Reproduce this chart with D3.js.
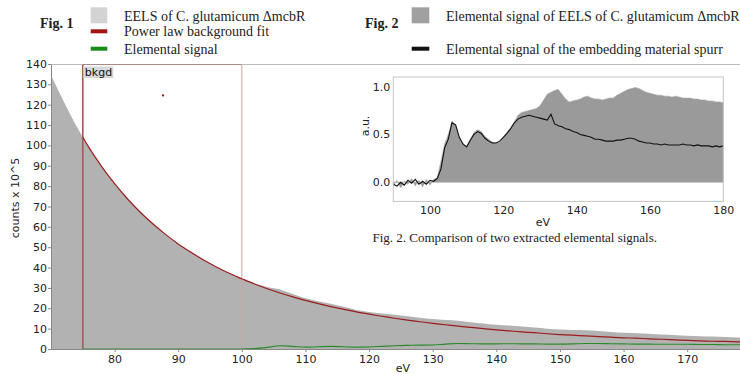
<!DOCTYPE html>
<html>
<head>
<meta charset="utf-8">
<script src="https://cdn.jsdelivr.net/npm/d3@7"></script>
<style>
  body { margin: 0; background: #fff; }
  svg { display: block; }
  .tick text { font-family: "DejaVu Sans", sans-serif; font-size: 11px; fill: #222; }
  .serif { font-family: "Liberation Serif", "Times New Roman", serif; fill: #222; }
</style>
</head>
<body>
<div id="chart"></div>
<script>
// ---- Fig. 1 data (counts x 10^5 vs eV) ----
const specEv = [70, 72, 74, 76, 78, 80, 82, 84, 86, 88, 90, 92, 94, 96, 98, 100,
  102, 104, 106, 108, 110, 112, 114, 116, 118, 120, 122, 124, 126, 128, 130,
  132, 134, 136, 138, 140, 142, 144, 146, 148, 150, 152, 154, 156, 158, 160,
  162, 164, 166, 168, 170, 172, 174, 176, 178, 180];
const specCounts = [134.5, 121.6, 109.5, 98.8, 89.5, 81.2, 73.8, 67.3, 61.5, 56.3, 51.6, 47.5, 43.7, 40.3, 37.2, 34.6,
  32.2, 30.5, 29.2, 27.0, 24.9, 23.5, 22.2, 20.7, 19.2, 18.2, 17.4, 16.8, 16.1, 15.3, 14.7,
  14.3, 13.9, 13.2, 12.5, 11.9, 11.5, 11.0, 10.6, 10.0, 9.6, 9.3, 9.2, 8.8, 8.4, 8.0,
  7.7, 7.5, 7.1, 6.9, 6.5, 6.3, 6.1, 5.9, 5.6, 5.5];

const fitEv = [75, 76, 78, 80, 82, 84, 86, 88, 90, 92, 94, 96, 98, 100,
  102, 104, 106, 108, 110, 112, 114, 116, 118, 120, 122, 124, 126, 128, 130,
  132, 134, 136, 138, 140, 142, 144, 146, 148, 150, 152, 154, 156, 158, 160,
  162, 164, 166, 168, 170, 172, 174, 176, 178, 180];
const fitCounts = [104, 98.8, 89.5, 81.2, 73.8, 67.3, 61.5, 56.3, 51.6, 47.5, 43.7, 40.3, 37.2, 34.5,
  31.9, 29.6, 27.5, 25.6, 23.9, 22.3, 20.8, 19.5, 18.2, 17.1, 16.1, 15.1, 14.2, 13.4, 12.6,
  11.9, 11.2, 10.6, 10.0, 9.4, 8.9, 8.4, 8.0, 7.5, 7.1, 6.8, 6.4, 6.1, 5.8, 5.5,
  5.3, 5.0, 4.8, 4.5, 4.2, 4.0, 3.8, 3.7, 3.5, 3.4];

const sigEv = fitEv;
const sigCounts = [0, 0, 0, 0, 0, 0, 0, 0, 0, 0, 0, 0, 0, 0,
  0.2, 0.8, 1.6, 1.3, 0.9, 1.1, 1.3, 1.1, 0.9, 1.0, 1.3, 1.6, 1.8, 1.9, 2.0,
  2.4, 2.7, 2.6, 2.5, 2.5, 2.6, 2.5, 2.5, 2.4, 2.4, 2.5, 2.7, 2.7, 2.6, 2.5,
  2.4, 2.4, 2.3, 2.3, 2.3, 2.2, 2.2, 2.1, 2.1, 2.0];

const bkgdWindow = [75, 100];
const marker = [{ev: 87.6, counts: 124.6}];
const yTicks1 = d3.range(0, 141, 10);
const xTicks1 = [80, 90, 100, 110, 120, 130, 140, 150, 160, 170];

// ---- Fig. 2 data (a.u. vs eV) ----
const ev2 = d3.range(90, 181, 1);
const cgSignal = [-0.03, 0.02, -0.06, 0.01, -0.02, 0.04, -0.04, 0.02, -0.05, 0.03,
  -0.03, 0.03, 0.05, 0.22, 0.40, 0.50, 0.64, 0.60, 0.47, 0.40,
  0.37, 0.45, 0.52, 0.55, 0.53, 0.48, 0.45, 0.42, 0.41, 0.42,
  0.47, 0.52, 0.57, 0.63, 0.70, 0.73, 0.74, 0.75, 0.76, 0.77,
  0.80, 0.86, 0.92, 0.94, 0.96, 0.97, 0.92, 0.87, 0.84, 0.85,
  0.86, 0.87, 0.89, 0.90, 0.88, 0.87, 0.87, 0.86, 0.87, 0.88,
  0.88, 0.91, 0.93, 0.95, 0.97, 0.98, 0.99, 0.98, 0.96, 0.94,
  0.93, 0.92, 0.91, 0.91, 0.90, 0.90, 0.89, 0.90, 0.89, 0.88,
  0.88, 0.88, 0.87, 0.87, 0.86, 0.86, 0.85, 0.85, 0.84, 0.84, 0.83];
const spurrSignal = [-0.02, -0.04, 0.00, -0.03, 0.02, -0.01, 0.03, -0.02, 0.01, -0.02,
  0.02, 0.01, 0.04, 0.14, 0.36, 0.45, 0.62, 0.60, 0.47, 0.40,
  0.37, 0.44, 0.50, 0.53, 0.51, 0.46, 0.43, 0.41, 0.41, 0.43,
  0.47, 0.51, 0.56, 0.62, 0.66, 0.68, 0.69, 0.70, 0.69, 0.68,
  0.67, 0.66, 0.65, 0.71, 0.61, 0.59, 0.58, 0.56, 0.55, 0.53,
  0.52, 0.50, 0.49, 0.48, 0.47, 0.45, 0.45, 0.44, 0.43, 0.43,
  0.43, 0.44, 0.44, 0.45, 0.46, 0.46, 0.45, 0.43, 0.42, 0.41,
  0.41, 0.40, 0.40, 0.39, 0.40, 0.39, 0.39, 0.39, 0.39, 0.40,
  0.39, 0.39, 0.38, 0.39, 0.38, 0.38, 0.38, 0.37, 0.38, 0.37, 0.38];
const yTicks2 = [0, 0.5, 1.0];
const xTicks2 = [100, 120, 140, 160, 180];

const legend1 = ['EELS of C. glutamicum \u0394mcbR', 'Power law background fit', 'Elemental signal'];
const legend2 = ['Elemental signal of EELS of C. glutamicum \u0394mcbR', 'Elemental signal of the embedding material spurr'];

const W = 740, H = 374;
const svg = d3.select('#chart').append('svg')
  .attr('width', W).attr('height', H)
  .attr('viewBox', [0, 0, W, H].toString());

// ---------- Fig. 1 ----------
const plot = {left: 51, right: 740, top: 64, bottom: 349};
const x = d3.scaleLinear().domain([70, 178.3]).range([plot.left, plot.right]);
const y = d3.scaleLinear().domain([0, 140]).range([plot.bottom, plot.top]);

svg.append('clipPath').attr('id', 'clip1')
  .append('rect')
  .attr('x', plot.left).attr('y', plot.top)
  .attr('width', plot.right - plot.left).attr('height', plot.bottom - plot.top);

const g1 = svg.append('g').attr('clip-path', 'url(#clip1)');

g1.append('path')
  .datum(specEv.map((e, i) => [e, specCounts[i]]))
  .attr('d', d3.area().x(d => x(d[0])).y0(y(0)).y1(d => y(d[1])).curve(d3.curveMonotoneX))
  .attr('fill', '#b2b2b2');

// background window
const bx0 = x(bkgdWindow[0]), bx1 = x(bkgdWindow[1]);
g1.append('line').attr('x1', bx0).attr('x2', bx1).attr('y1', plot.top + 0.5).attr('y2', plot.top + 0.5)
  .attr('stroke', '#b08888').attr('stroke-width', 1);
g1.append('line').attr('x1', bx1).attr('x2', bx1).attr('y1', plot.top).attr('y2', plot.bottom)
  .attr('stroke', '#c8a8a8').attr('stroke-width', 1);
g1.append('line').attr('x1', bx0).attr('x2', bx0).attr('y1', plot.top).attr('y2', plot.bottom)
  .attr('stroke', '#a06060').attr('stroke-width', 1.7);

g1.append('path')
  .datum(sigEv.map((e, i) => [e, sigCounts[i]]))
  .attr('d', d3.line().x(d => x(d[0])).y(d => y(d[1])).curve(d3.curveMonotoneX))
  .attr('fill', 'none').attr('stroke', '#2a8a2a').attr('stroke-width', 1.1);

g1.append('path')
  .datum(fitEv.map((e, i) => [e, fitCounts[i]]))
  .attr('d', d3.line().x(d => x(d[0])).y(d => y(d[1])).curve(d3.curveMonotoneX))
  .attr('fill', 'none').attr('stroke', '#9b1c1c').attr('stroke-width', 1.2);

// top frame line outside the window
svg.append('line').attr('x1', plot.left).attr('x2', bx0).attr('y1', plot.top + 0.5).attr('y2', plot.top + 0.5)
  .attr('stroke', '#bbb');
svg.append('line').attr('x1', bx1).attr('x2', plot.right).attr('y1', plot.top + 0.5).attr('y2', plot.top + 0.5)
  .attr('stroke', '#bbb');

const yAxis1 = svg.append('g')
  .attr('transform', `translate(${plot.left},0)`)
  .call(d3.axisLeft(y).tickValues(yTicks1).tickSize(3).tickPadding(1).tickSizeOuter(0));
const xAxis1 = svg.append('g')
  .attr('transform', `translate(0,${plot.bottom})`)
  .call(d3.axisBottom(x).tickValues(xTicks1).tickSize(3).tickPadding(3).tickSizeOuter(0));
[yAxis1, xAxis1].forEach(a => {
  a.select('.domain').attr('stroke', '#888');
  a.selectAll('.tick line').attr('stroke', '#888');
});

// bkgd label
svg.append('rect').attr('x', bx0 + 0.5).attr('y', 66.5).attr('width', 30).attr('height', 11.5)
  .attr('fill', '#d8d8dc');
svg.append('text').attr('x', bx0 + 2).attr('y', 76)
  .attr('font-family', 'DejaVu Sans, sans-serif').attr('font-size', 11).attr('fill', '#111')
  .text('bkgd');

svg.selectAll('.marker').data(marker).enter().append('rect')
  .attr('class', 'marker')
  .attr('x', d => x(d.ev) - 1).attr('y', d => y(d.counts) - 1)
  .attr('width', 2).attr('height', 2).attr('fill', '#9b1c1c');

svg.append('text')
  .attr('transform', 'translate(19,198) rotate(-90)')
  .attr('text-anchor', 'middle')
  .attr('font-family', 'DejaVu Sans, sans-serif').attr('font-size', 11).attr('fill', '#222')
  .text('counts x 10^5');
svg.append('text').attr('x', 403).attr('y', 371.5).attr('text-anchor', 'middle')
  .attr('font-family', 'DejaVu Sans, sans-serif').attr('font-size', 11).attr('fill', '#222')
  .text('eV');

// ---------- Fig. 2 inset ----------
const ins = {left: 393.3, right: 723.3, top: 77, bottom: 201.4};
const x2 = d3.scaleLinear().domain([90, 180]).range([ins.left, ins.right]);
const y2 = d3.scaleLinear().domain([-0.2, 1.1]).range([ins.bottom, ins.top]);

svg.append('rect')
  .attr('x', ins.left).attr('y', ins.top)
  .attr('width', ins.right - ins.left).attr('height', ins.bottom - ins.top)
  .attr('fill', '#fff');

svg.append('path')
  .datum(ev2.map((e, i) => [e, cgSignal[i]]))
  .attr('d', d3.area().x(d => x2(d[0])).y0(y2(0)).y1(d => y2(d[1])))
  .attr('fill', '#9a9a9a').attr('stroke', '#a8a8a8').attr('stroke-width', 0.6);

svg.append('path')
  .datum(ev2.map((e, i) => [e, spurrSignal[i]]))
  .attr('d', d3.line().x(d => x2(d[0])).y(d => y2(d[1])))
  .attr('fill', 'none').attr('stroke', '#111').attr('stroke-width', 1.1);

svg.append('rect')
  .attr('x', ins.left).attr('y', ins.top)
  .attr('width', ins.right - ins.left).attr('height', ins.bottom - ins.top)
  .attr('fill', 'none').attr('stroke', '#c4c4c4');

const yAxis2 = svg.append('g')
  .attr('transform', `translate(${ins.left},0)`)
  .call(d3.axisLeft(y2).tickValues(yTicks2).tickFormat(d3.format('.1f')).tickSize(0).tickPadding(3));
const xAxis2 = svg.append('g')
  .attr('transform', `translate(0,${ins.bottom})`)
  .call(d3.axisBottom(x2).tickValues(xTicks2).tickSize(0).tickPadding(5));
[yAxis2, xAxis2].forEach(a => a.select('.domain').remove());

svg.append('text')
  .attr('transform', 'translate(369,126) rotate(-90)')
  .attr('text-anchor', 'middle')
  .attr('font-family', 'DejaVu Sans, sans-serif').attr('font-size', 11).attr('fill', '#222')
  .text('a.u.');
svg.append('text').attr('x', 543).attr('y', 226).attr('text-anchor', 'middle')
  .attr('font-family', 'DejaVu Sans, sans-serif').attr('font-size', 11).attr('fill', '#222')
  .text('eV');

svg.append('text').attr('class', 'serif').attr('x', 372.5).attr('y', 242)
  .attr('font-size', 13)
  .text('Fig. 2. Comparison of two extracted elemental signals.');

// ---------- legends ----------
svg.append('text').attr('class', 'serif').attr('x', 40).attr('y', 27.5)
  .attr('font-size', 14).attr('font-weight', 'bold').text('Fig. 1');
svg.append('text').attr('class', 'serif').attr('x', 365).attr('y', 27.5)
  .attr('font-size', 14).attr('font-weight', 'bold').text('Fig. 2');

const sw1 = [
  {color: '#d3d3d3', y: 7.3, h: 16},
  {color: '#a01414', y: 29.3, h: 4},
  {color: '#178a17', y: 46.7, h: 4}
];
const base1 = [20.5, 36.3, 53.5];
legend1.forEach((label, i) => {
  svg.append('rect').attr('x', 90.7).attr('y', sw1[i].y).attr('width', 16.6).attr('height', sw1[i].h)
    .attr('fill', sw1[i].color);
  svg.append('text').attr('class', 'serif').attr('x', 124).attr('y', base1[i])
    .attr('font-size', 14).text(label);
});

const sw2 = [
  {color: '#a0a0a0', y: 7.3, h: 16},
  {color: '#111', y: 46.7, h: 4}
];
const base2 = [20.5, 53.5];
legend2.forEach((label, i) => {
  svg.append('rect').attr('x', 411.7).attr('y', sw2[i].y).attr('width', 17.6).attr('height', sw2[i].h)
    .attr('fill', sw2[i].color);
  svg.append('text').attr('class', 'serif').attr('x', 446).attr('y', base2[i])
    .attr('font-size', 14).attr('fill', '#333').text(label);
});
</script>
</body>
</html>
